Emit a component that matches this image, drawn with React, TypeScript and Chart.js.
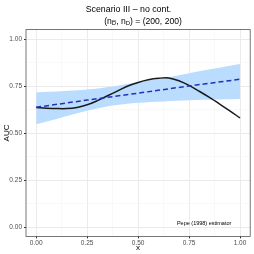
import React, { useEffect, useRef } from "react";
import { Chart, registerables } from "chart.js";

Chart.register(...registerables);

// ---- data ----
const xGrid = [0, 0.05, 0.1, 0.15, 0.2, 0.25, 0.3, 0.35, 0.4, 0.45, 0.5, 0.55, 0.6, 0.65, 0.7, 0.75, 0.8, 0.85, 0.9, 0.95, 1];
const trueAUC = [0.635, 0.632, 0.630, 0.630, 0.636, 0.650, 0.672, 0.698, 0.724, 0.750, 0.769, 0.783, 0.791, 0.793, 0.778, 0.753, 0.722, 0.689, 0.654, 0.618, 0.580];
const ribbonX = [0, 0.125, 0.25, 0.375, 0.5, 0.625, 0.75, 0.875, 1];
const lowerBand = [0.546, 0.583, 0.618, 0.646, 0.661, 0.668, 0.674, 0.678, 0.681];
const upperBand = [0.716, 0.722, 0.731, 0.748, 0.770, 0.792, 0.818, 0.843, 0.867];
const estX = [0, 0.25, 0.5, 0.75, 1];
const estAUC = [0.637, 0.675, 0.712, 0.750, 0.786];
const majorTicks = [0, 0.25, 0.5, 0.75, 1];
const allTicks = [0, 0.125, 0.25, 0.375, 0.5, 0.625, 0.75, 0.875, 1];
const titleText = "Scenario III \u2013 no cont.";
const subtitleParts = { open: "(n", sep: ", n", close: ") = (200, 200)", sub: "D" };
const annotationText = "Pepe (1998) estimator";
const annotationPos = { x: 0.824, y: 0.02 };

const FONT = "'Liberation Sans', Arial, sans-serif";

const isMajor = (v: number) => majorTicks.some((m) => Math.abs(m - v) < 1e-9);

const pts = (xs: number[], ys: number[]) => xs.map((x, i) => ({ x, y: ys[i] }));

const decorPlugin = {
  id: "decor",
  afterDatasetsDraw(chart: any) {
    const { ctx, chartArea } = chart;
    ctx.save();
    ctx.strokeStyle = "#555555";
    ctx.lineWidth = 0.8;
    ctx.strokeRect(chartArea.left, chartArea.top, chartArea.right - chartArea.left, chartArea.bottom - chartArea.top);
    const xs = chart.scales.x;
    const ys = chart.scales.y;
    ctx.fillStyle = "#000000";
    ctx.font = `5.5px ${FONT}`;
    ctx.textAlign = "center";
    ctx.textBaseline = "middle";
    ctx.fillText(annotationText, xs.getPixelForValue(annotationPos.x), ys.getPixelForValue(annotationPos.y));
    ctx.restore();
  },
  afterDraw(chart: any) {
    const { ctx } = chart;
    ctx.save();
    ctx.fillStyle = "#000000";
    ctx.textBaseline = "middle";
    ctx.textAlign = "center";
    ctx.font = `8.8px ${FONT}`;
    ctx.fillText(titleText, 128.5, 10);
    const big = `8.6px ${FONT}`;
    const small = `6px ${FONT}`;
    ctx.textAlign = "left";
    const parts: { t: string; sub: boolean; bar?: boolean }[] = [
      { t: subtitleParts.open, sub: false },
      { t: subtitleParts.sub, sub: true, bar: true },
      { t: subtitleParts.sep, sub: false },
      { t: subtitleParts.sub, sub: true },
      { t: subtitleParts.close, sub: false },
    ];
    let total = 0;
    for (const p of parts) {
      ctx.font = p.sub ? small : big;
      total += ctx.measureText(p.t).width;
    }
    let x = 143 - total / 2;
    const y = 21.5;
    for (const p of parts) {
      ctx.font = p.sub ? small : big;
      const w = ctx.measureText(p.t).width;
      const yy = p.sub ? y + 2.3 : y;
      ctx.fillText(p.t, x, yy);
      if (p.bar) {
        ctx.strokeStyle = "#000000";
        ctx.lineWidth = 0.5;
        ctx.beginPath();
        ctx.moveTo(x, yy - 3);
        ctx.lineTo(x + w, yy - 3);
        ctx.stroke();
      }
      x += w;
    }
    ctx.restore();
  },
};

export default function App() {
  const ref = useRef<HTMLCanvasElement>(null);
  useEffect(() => {
    if (!ref.current) return;
    const gridColor = (c: any) => (c.tick && isMajor(c.tick.value) ? "#EBEBEB" : "#F5F5F5");
    const gridWidth = (c: any) => (c.tick && isMajor(c.tick.value) ? 1 : 0.6);
    const tickColor = (c: any) => (c.tick && isMajor(c.tick.value) ? "#333333" : "rgba(0,0,0,0)");
    const tickCb = (v: any) => (isMajor(Number(v)) ? Number(v).toFixed(2) : "");
    const chart = new Chart(ref.current, {
      type: "line",
      data: {
        datasets: [
          {
            label: "lower",
            data: pts(ribbonX, lowerBand),
            borderWidth: 0,
            pointRadius: 0,
            tension: 0.3,
            fill: false,
            order: 4,
          } as any,
          {
            label: "upper",
            data: pts(ribbonX, upperBand),
            borderWidth: 0,
            pointRadius: 0,
            tension: 0.3,
            backgroundColor: "#BADCFE",
            fill: "-1",
            order: 3,
          } as any,
          {
            label: "true",
            data: pts(xGrid, trueAUC),
            borderColor: "#1A1A1A",
            borderWidth: 1.5,
            pointRadius: 0,
            tension: 0.35,
            fill: false,
            order: 2,
          } as any,
          {
            label: "estimate",
            data: pts(estX, estAUC),
            borderColor: "#2233B8",
            borderWidth: 1.5,
            borderDash: [5, 3],
            pointRadius: 0,
            fill: false,
            order: 1,
          } as any,
        ],
      },
      options: {
        animation: false,
        responsive: false,
        layout: { padding: { top: 29.6, right: 3.8, left: 0, bottom: 0 } },
        plugins: { legend: { display: false }, tooltip: { enabled: false }, title: { display: false } },
        scales: {
          x: {
            type: "linear",
            min: -0.05,
            max: 1.05,
            afterBuildTicks: (s: any) => {
              s.ticks = allTicks.map((v) => ({ value: v }));
            },
            afterFit: (s: any) => {
              s.height = 17.6;
            },
            ticks: { callback: tickCb, font: { size: 6.5, family: FONT }, color: "#4D4D4D", padding: 0.5, autoSkip: false, maxRotation: 0 },
            grid: { color: gridColor, lineWidth: gridWidth, tickColor, tickLength: 2, drawTicks: true },
            border: { display: false },
            title: { display: true, text: "x", font: { size: 8, family: FONT }, color: "#000000", padding: { top: 0, bottom: 1 } },
          },
          y: {
            type: "linear",
            min: -0.05,
            max: 1.05,
            afterBuildTicks: (s: any) => {
              s.ticks = allTicks.map((v) => ({ value: v }));
            },
            afterFit: (s: any) => {
              s.width = 26;
            },
            ticks: { callback: tickCb, font: { size: 6.5, family: FONT }, color: "#4D4D4D", padding: 2, autoSkip: false },
            grid: { color: gridColor, lineWidth: gridWidth, tickColor, tickLength: 2, drawTicks: true },
            border: { display: false },
            title: { display: true, text: "AUC", font: { size: 8, family: FONT }, color: "#000000", padding: { top: 2, bottom: 0 } },
          },
        },
      } as any,
      plugins: [decorPlugin],
    });
    return () => chart.destroy();
  }, []);
  return (
    <div style={{ position: "absolute", left: 0, top: 0, width: 254, height: 254, background: "#ffffff" }}>
      <canvas ref={ref} width={254} height={254} style={{ width: 254, height: 254, display: "block" }} />
    </div>
  );
}
